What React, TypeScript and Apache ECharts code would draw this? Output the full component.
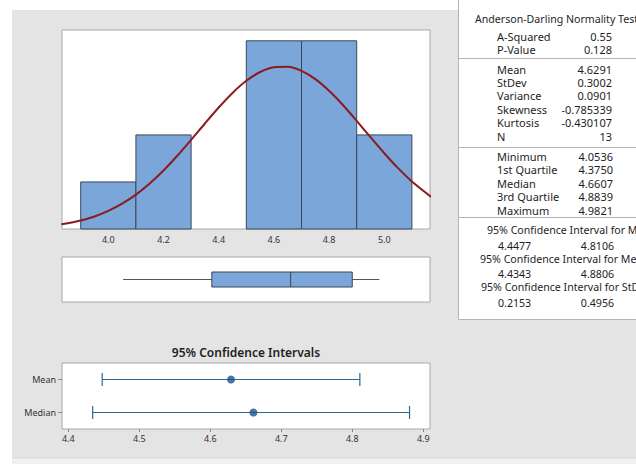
import React, { useEffect, useRef } from "react";
import * as echarts from "echarts";

// ---------- data ----------
const binStarts = [3.9, 4.1, 4.3, 4.5, 4.7, 4.9];
const binCounts = [1, 2, 0, 4, 4, 2];
const binWidth = 0.2;
const histTicks = [4.0, 4.2, 4.4, 4.6, 4.8, 5.0];

const curveX = [3.83, 3.9, 3.95, 4.0, 4.05, 4.1, 4.15, 4.2, 4.25, 4.3, 4.35, 4.4, 4.45, 4.5, 4.55, 4.6, 4.65, 4.7, 4.75, 4.8, 4.85, 4.9, 4.95, 5.0, 5.05, 5.1, 5.17];
const curveY = [0.1, 0.181, 0.267, 0.385, 0.538, 0.731, 0.967, 1.244, 1.557, 1.894, 2.243, 2.582, 2.892, 3.15, 3.337, 3.439, 3.447, 3.36, 3.186, 2.938, 2.636, 2.299, 1.951, 1.611, 1.293, 1.01, 0.682];

const boxStats = [4.0536, 4.375, 4.6607, 4.8839, 4.9821]; // min, q1, median, q3, max

const ciCategories = ["Median", "Mean"];
const ciLow = [4.4343, 4.4477];
const ciHigh = [4.8806, 4.8106];
const ciCenter = [4.6607, 4.6291];
const ciTicks = [4.4, 4.5, 4.6, 4.7, 4.8, 4.9];

const normalityRows = [
  ["A-Squared", "0.55"],
  ["P-Value", "0.128"],
];
const descRows = [
  ["Mean", "4.6291"],
  ["StDev", "0.3002"],
  ["Variance", "0.0901"],
  ["Skewness", "-0.785339"],
  ["Kurtosis", "-0.430107"],
  ["N", "13"],
];
const quantRows = [
  ["Minimum", "4.0536"],
  ["1st Quartile", "4.3750"],
  ["Median", "4.6607"],
  ["3rd Quartile", "4.8839"],
  ["Maximum", "4.9821"],
];
const ciTableRows = [
  ["95% Confidence Interval for Mean", "4.4477", "4.8106"],
  ["95% Confidence Interval for Median", "4.4343", "4.8806"],
  ["95% Confidence Interval for StDev", "0.2153", "0.4956"],
];

const FONT = "'Noto Sans', 'Open Sans', sans-serif";
const TXT = "#1e1e1e";

export default function App() {
  const ref = useRef<HTMLDivElement>(null);
  useEffect(() => {
    document.body.style.margin = "0";
    if (!ref.current) return;
    const chart = echarts.init(ref.current, undefined, { renderer: "svg" });

    const graphics: any[] = [];
    graphics.push({ type: "rect", shape: { x: 0, y: 0, width: 636, height: 10 }, style: { fill: "#ffffff" }, silent: true });
    graphics.push({ type: "rect", shape: { x: 0, y: 0, width: 12, height: 464 }, style: { fill: "#ffffff" }, silent: true });
    graphics.push({ type: "rect", shape: { x: 12, y: 458, width: 624, height: 6 }, style: { fill: "#f0f0f0" }, silent: true });
    graphics.push({ type: "line", shape: { x1: 12, y1: 458, x2: 636, y2: 458 }, style: { stroke: "#d6d6d6", lineWidth: 1 }, silent: true });
    graphics.push({
      type: "rect",
      shape: { x: 458.5, y: -2, width: 180, height: 321.5 },
      style: { fill: "#ffffff", stroke: "#b4b4b4", lineWidth: 1 },
      silent: true,
    });
    [58.5, 147.5, 217.5].forEach((y) =>
      graphics.push({ type: "line", shape: { x1: 459, y1: y, x2: 636, y2: y }, style: { stroke: "#b4b4b4", lineWidth: 1 }, silent: true })
    );
    const txt = (text: string, x: number, y: number, align: string, size = 11, weight: any = "normal") => ({
      type: "text",
      x,
      y,
      silent: true,
      style: {
        text,
        fill: TXT,
        font: `${weight} ${size}px ${FONT}`,
        textAlign: align,
        textVerticalAlign: "middle",
        lineHeight: 12,
      },
    });
    graphics.push(txt("Anderson-Darling Normality Test", 475, 19, "left", 10.6));
    normalityRows.forEach((r, i) => {
      graphics.push(txt(r[0], 497, 36 + i * 13.5, "left"));
      graphics.push(txt(r[1], 612, 36 + i * 13.5, "right"));
    });
    descRows.forEach((r, i) => {
      graphics.push(txt(r[0], 497, 69 + i * 13.4, "left"));
      graphics.push(txt(r[1], 612, 69 + i * 13.4, "right"));
    });
    quantRows.forEach((r, i) => {
      graphics.push(txt(r[0], 497, 156 + i * 13.6, "left"));
      graphics.push(txt(r[1], 613, 156 + i * 13.6, "right"));
    });
    const ciHeadX = [487, 480, 481];
    ciTableRows.forEach((r, i) => {
      const y = 230 + i * 28.5;
      graphics.push(txt(r[0], ciHeadX[i], y, "left", 10.6));
      graphics.push(txt(r[1], 498, y + 15.5, "left", 10.6));
      graphics.push(txt(r[2], 614, y + 15.5, "right", 10.6));
    });
    graphics.push(txt("95% Confidence Intervals", 246, 352, "center", 12, 600));

    const axisLabelStyle = { color: "#333333", fontSize: 9, fontFamily: FONT };
    const histMin = 3.8322;
    const histMax = 5.1656;

    const option: any = {
      animation: false,
      backgroundColor: "#e4e4e4",
      graphic: { elements: graphics },
      grid: [
        { left: 62, top: 30, width: 368, height: 199, show: true, backgroundColor: "#ffffff", borderColor: "#a8a8a8", borderWidth: 1 },
        { left: 62, top: 257, width: 368, height: 45, show: true, backgroundColor: "#ffffff", borderColor: "#a8a8a8", borderWidth: 1 },
        { left: 62, top: 363, width: 368, height: 66, show: true, backgroundColor: "#ffffff", borderColor: "#a8a8a8", borderWidth: 1 },
      ],
      xAxis: [
        {
          type: "value",
          gridIndex: 0,
          min: histMin,
          max: histMax,
          splitLine: { show: false },
          axisLine: { show: false },
          axisTick: { show: false, customValues: histTicks },
          axisLabel: { ...axisLabelStyle, margin: 6, customValues: histTicks, formatter: (v: number) => v.toFixed(1) },
        },
        {
          type: "value",
          gridIndex: 1,
          min: histMin,
          max: histMax,
          show: false,
          splitLine: { show: false },
        },
        {
          type: "value",
          gridIndex: 2,
          min: 4.3911,
          max: 4.9094,
          splitLine: { show: false },
          axisLine: { show: false },
          axisTick: { show: true, length: 3, lineStyle: { color: "#888888" }, customValues: ciTicks },
          axisLabel: { ...axisLabelStyle, margin: 5, customValues: ciTicks, formatter: (v: number) => v.toFixed(1) },
        },
      ],
      yAxis: [
        { type: "value", gridIndex: 0, min: 0, max: 4.23, show: false, splitLine: { show: false } },
        { type: "category", gridIndex: 1, data: ["box"], show: false },
        {
          type: "category",
          gridIndex: 2,
          data: ciCategories,
          axisLine: { show: false },
          axisTick: { show: true, length: 4, alignWithLabel: true, lineStyle: { color: "#888888" } },
          axisLabel: { ...axisLabelStyle, margin: 6 },
        },
      ],
      series: [
        {
          type: "custom",
          xAxisIndex: 0,
          yAxisIndex: 0,
          data: binStarts.map((s, i) => [s, s + binWidth, binCounts[i]]),
          encode: { x: [0, 1], y: 2 },
          renderItem: (params: any, api: any) => {
            const c = api.value(2);
            if (!c) return { type: "group", children: [] };
            const p0 = api.coord([api.value(0), c]);
            const p1 = api.coord([api.value(1), 0]);
            return {
              type: "rect",
              shape: { x: p0[0], y: p0[1], width: p1[0] - p0[0], height: p1[1] - p0[1] },
              style: { fill: "#7ba6d9", stroke: "#3b4756", lineWidth: 1 },
            };
          },
          z: 2,
        },
        {
          type: "line",
          xAxisIndex: 0,
          yAxisIndex: 0,
          data: curveX.map((x, i) => [x, curveY[i]]),
          smooth: 0.3,
          showSymbol: false,
          lineStyle: { color: "#8b1a22", width: 2 },
          z: 3,
        },
        {
          type: "custom",
          xAxisIndex: 1,
          yAxisIndex: 1,
          data: [[0, ...boxStats]],
          encode: { x: [1, 2, 3, 4, 5], y: 0 },
          renderItem: (params: any, api: any) => {
            const yc = api.coord([api.value(1), 0])[1];
            const xs = [1, 2, 3, 4, 5].map((d) => api.coord([api.value(d), 0])[0]);
            const h = 15;
            return {
              type: "group",
              children: [
                { type: "line", shape: { x1: xs[0], y1: yc, x2: xs[1], y2: yc }, style: { stroke: "#555555", lineWidth: 1 } },
                { type: "line", shape: { x1: xs[3], y1: yc, x2: xs[4], y2: yc }, style: { stroke: "#555555", lineWidth: 1 } },
                {
                  type: "rect",
                  shape: { x: xs[1], y: yc - h / 2, width: xs[3] - xs[1], height: h },
                  style: { fill: "#7ba6d9", stroke: "#3b4756", lineWidth: 1 },
                },
                { type: "line", shape: { x1: xs[2], y1: yc - h / 2, x2: xs[2], y2: yc + h / 2 }, style: { stroke: "#3b4756", lineWidth: 1 } },
              ],
            };
          },
        },
        {
          type: "custom",
          xAxisIndex: 2,
          yAxisIndex: 2,
          data: ciCategories.map((c, i) => [i, ciLow[i], ciHigh[i]]),
          encode: { x: [1, 2], y: 0 },
          renderItem: (params: any, api: any) => {
            const cat = api.value(0);
            const a = api.coord([api.value(1), cat]);
            const b = api.coord([api.value(2), cat]);
            const hh = 6.5;
            const st = { stroke: "#2c6a92", lineWidth: 1.2 };
            return {
              type: "group",
              children: [
                { type: "line", shape: { x1: a[0], y1: a[1], x2: b[0], y2: b[1] }, style: st },
                { type: "line", shape: { x1: a[0], y1: a[1] - hh, x2: a[0], y2: a[1] + hh }, style: st },
                { type: "line", shape: { x1: b[0], y1: b[1] - hh, x2: b[0], y2: b[1] + hh }, style: st },
              ],
            };
          },
        },
        {
          type: "scatter",
          xAxisIndex: 2,
          yAxisIndex: 2,
          data: ciCategories.map((c, i) => [ciCenter[i], c]),
          symbol: "circle",
          symbolSize: 8,
          itemStyle: { color: "#1d5189" },
          z: 5,
        },
      ],
    };
    chart.setOption(option);
    return () => chart.dispose();
  }, []);
  return <div ref={ref} style={{ width: 636, height: 464 }} />;
}
